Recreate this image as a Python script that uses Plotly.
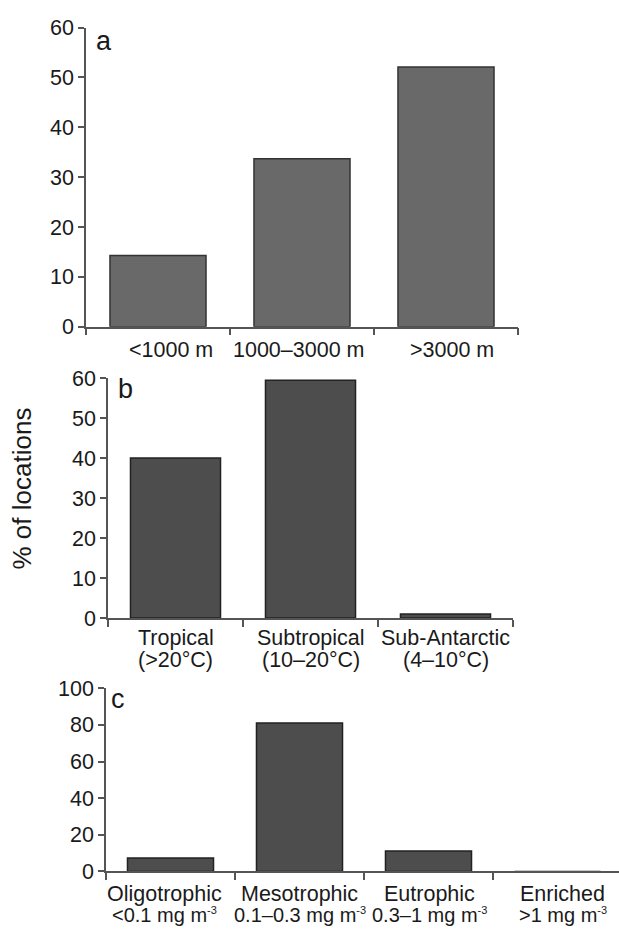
import plotly.graph_objects as go

# ---- data ----
depth_labels = ["<1000 m", "1000–3000 m", ">3000 m"]
depth_values = [14.3, 33.7, 52.1]

temp_line1 = ["Tropical", "Subtropical", "Sub-Antarctic"]
temp_line2 = ["(>20°C)", "(10–20°C)", "(4–10°C)"]
temp_values = [40.1, 59.5, 1.0]

SUP = "<sup><span style='font-size:11px'>-3</span></sup>"
chl_line1 = ["Oligotrophic", "Mesotrophic", "Eutrophic", "Enriched"]
chl_line2 = ["<0.1 mg m" + SUP, "0.1–0.3 mg m" + SUP,
             "0.3–1 mg m" + SUP, ">1 mg m" + SUP]
chl_values = [7.3, 81.0, 11.2, 0.0]

y_title = "% of locations"
panel_letters = ["a", "b", "c"]

W, H = 619, 940
FONT = "Liberation Sans, Arial, Helvetica, sans-serif"
TXT = "#1a1a1a"
AX = "#555555"
FS = 21.5

# small horizontal nudges of category labels (style, in px)
nudge_a = [13, -3, 6]
nudge_c = [-6, 0, 1, 5]


def px_x(v):
    return v / W


def px_y(v):
    return 1 - v / H


fig = go.Figure()

fig.add_trace(go.Bar(x=depth_labels, y=depth_values, xaxis="x", yaxis="y",
                     marker=dict(color="#696969", line=dict(color="#333333", width=1.5)),
                     width=0.667, showlegend=False))
fig.add_trace(go.Bar(x=temp_line1, y=temp_values, xaxis="x2", yaxis="y2",
                     marker=dict(color="#4d4d4d", line=dict(color="#222222", width=1.5)),
                     width=0.667, showlegend=False))
fig.add_trace(go.Bar(x=chl_line1, y=chl_values, xaxis="x3", yaxis="y3",
                     marker=dict(color="#4d4d4d", line=dict(color="#222222", width=1.5)),
                     width=0.667, showlegend=False))


def xax(domain, rng):
    return dict(domain=domain, range=rng, type="category", showline=True, linecolor=AX,
                linewidth=1.5, ticks="outside", tickson="boundaries", ticklen=7,
                tickcolor=AX, tickwidth=1.5, showticklabels=False, showgrid=False,
                zeroline=False, fixedrange=True)


def yax(domain, rng, dtick, anchor):
    return dict(domain=domain, range=rng, dtick=dtick, anchor=anchor, showline=True,
                linecolor=AX, linewidth=1.5, ticks="outside", ticklen=6, tickcolor=AX,
                tickwidth=1.5, showgrid=False, zeroline=False,
                tickfont=dict(family=FONT, size=FS, color=TXT), fixedrange=True)


layout = dict(
    width=W, height=H, margin=dict(l=0, r=0, t=0, b=0),
    paper_bgcolor="white", plot_bgcolor="white",
    font=dict(family=FONT, size=FS, color=TXT),
    xaxis=dict(**xax([px_x(86), px_x(518)], [-0.5, 2.5]), anchor="y"),
    yaxis=yax([px_y(324), px_y(17)], [0, 60], 10, "x"),
    xaxis2=dict(**xax([px_x(108), px_x(513)], [-0.5, 2.5]), anchor="y2"),
    yaxis2=yax([px_y(623), px_y(377)], [0, 60], 10, "x2"),
    xaxis3=dict(**xax([px_x(106), 1.0], [-0.5, -0.5 + (619 - 106) / 129.0]), anchor="y3"),
    yaxis3=yax([px_y(883), px_y(695)], [0, 100], 20, "x3"),
)
fig.update_layout(**layout)

f = dict(size=FS, color=TXT, family=FONT)
f2 = dict(size=20, color=TXT, family=FONT)
ann = []
for lab, dx in zip(depth_labels, nudge_a):
    ann.append(dict(x=lab, y=0, xref="x", yref="y", text=lab, showarrow=False,
                    yanchor="middle", yshift=-23, xshift=dx, font=f))
for l1, l2 in zip(temp_line1, temp_line2):
    ann.append(dict(x=l1, y=0, xref="x2", yref="y2", text=l1, showarrow=False,
                    yanchor="middle", yshift=-20, font=f))
    ann.append(dict(x=l1, y=0, xref="x2", yref="y2", text=l2, showarrow=False,
                    yanchor="middle", yshift=-42, font=f))
for l1, l2, dx in zip(chl_line1, chl_line2, nudge_c):
    ann.append(dict(x=l1, y=0, xref="x3", yref="y3", text=l1, showarrow=False,
                    yanchor="middle", yshift=-23, xshift=dx, font=f))
    ann.append(dict(x=l1, y=0, xref="x3", yref="y3", text=l2, showarrow=False,
                    yanchor="middle", yshift=-44, xshift=dx, font=f2))

ann.append(dict(x=px_x(22), y=px_y(490), xref="paper", yref="paper", text=y_title,
                textangle=-90, showarrow=False, xanchor="center", yanchor="middle",
                font=dict(size=26, color=TXT, family=FONT)))

for letter, (lx, ly) in zip(panel_letters, [(94, 31), (116, 388), (109, 706)]):
    ann.append(dict(x=px_x(lx), y=px_y(ly), xref="paper", yref="paper", text=letter,
                    showarrow=False, xanchor="left", yanchor="middle",
                    font=dict(size=27, color=TXT, family=FONT)))

fig.update_layout(annotations=ann)
fig.write_html("out.html", config={"displayModeBar": False},
               post_script="document.body.style.margin='0';document.body.style.padding='0';")
